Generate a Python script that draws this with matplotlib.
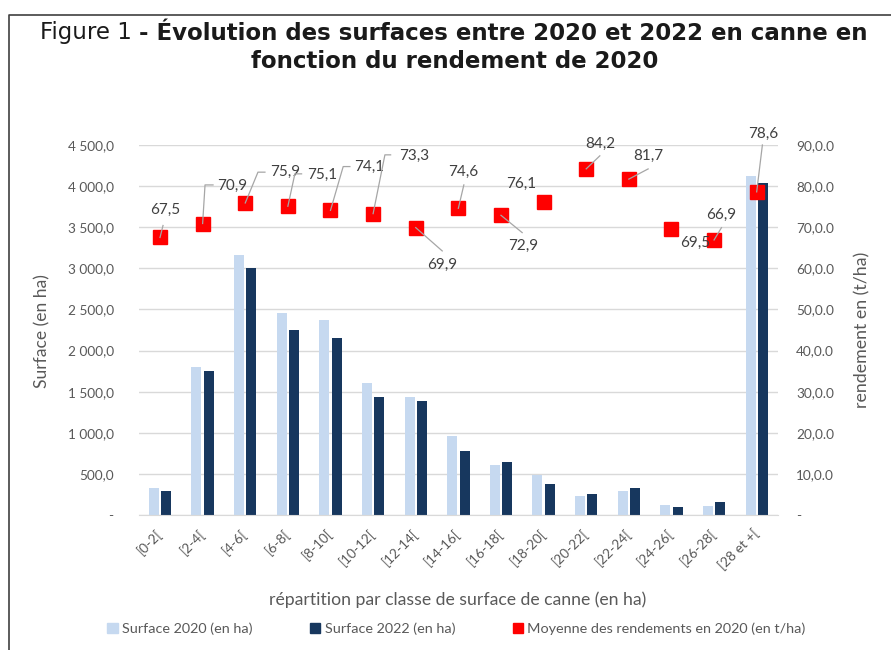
import numpy as np
import matplotlib.pyplot as plt
from matplotlib.patches import Patch
from matplotlib.lines import Line2D
from matplotlib.transforms import IdentityTransform
from matplotlib.ticker import FuncFormatter

# data
classes = ['[0-2[', '[2-4[', '[4-6[', '[6-8[', '[8-10[', '[10-12[', '[12-14[',
           '[14-16[', '[16-18[', '[18-20[', '[20-22[', '[22-24[', '[24-26[',
           '[26-28[', '[28 et +[']
surf_2020 = [325, 1797, 3163, 2461, 2368, 1602, 1439, 965, 608, 490, 231, 296, 125, 109, 4128]
surf_2022 = [292, 1752, 3001, 2250, 2149, 1439, 1387, 782, 645, 377, 259, 325, 101, 162, 4043]
rendement = [67.5, 70.9, 75.9, 75.1, 74.1, 73.3, 69.9, 74.6, 72.9, 76.1, 84.2, 81.7, 69.5, 66.9, 78.6]

# label offsets (pixels, screen-down) and leader polylines
lab_off = [(5, -28), (30, -38), (40, -31), (34, -31), (39, -43), (41, -58), (26, 37),
           (5, -36), (22, 31), (-22, -18), (14, -25), (19, -23), (24, 14), (7, -25), (6, -58)]
leaders = [[(0, 0), (3, -12)],
           [(0, 0), (2.4, -38.6), (10.4, -38.6)],
           [(0, 0), (12.7, -30.8), (19.7, -30.8)],
           [(0, 0), (7, -32.4), (13.7, -32.4)],
           [(0, 0), (12.7, -43.8), (19.4, -43.8)],
           [(0, 0), (11.8, -58.8), (17.5, -58.8)],
           [(0, 0), (26.5, 23.3)],
           [(0, 0), (5.5, -23.4)],
           [(0, 0), (21.2, 17.3)],
           None,
           [(0, 0), (13.6, -13)],
           [(0, 0), (19.3, -10.2)],
           None,
           [(0, 0), (7.4, -12.3)],
           [(0, 0), (5.7, -46.9)]]

c_light = '#c6d9f0'
c_dark = '#17375e'
c_red = '#ff0000'
c_txt = '#595959'
fnt = 'Lato'

W, H = 891, 650
fig = plt.figure(figsize=(W / 100, H / 100), dpi=100)
ax = fig.add_axes([138.7 / W, 1 - 515 / H, (778 - 138.7) / W, 370 / H])
ax2 = ax.twinx()

x = np.arange(len(classes))
bw = 0.235
ax.bar(x - 0.145, surf_2020, bw, color=c_light, zorder=2)
ax.bar(x + 0.145, surf_2022, bw, color=c_dark, zorder=2)
ax.set_xlim(-0.5, len(classes) - 0.5)
ax.set_ylim(0, 4500)
ax.set_yticks(np.arange(0, 4501, 500))

def fmt_left(v, p):
    if v == 0:
        return '-'
    return '{:,.1f}'.format(v).replace(',', ' ').replace('.', ',')

def fmt_right(v, p):
    if v == 0:
        return '-'
    return '{:.0f},0.0'.format(v)

ax.yaxis.set_major_formatter(FuncFormatter(fmt_left))
ax.grid(axis='y', color='#d9d9d9', lw=1, zorder=0)
ax.set_axisbelow(True)
for a in (ax, ax2):
    for s in ['top', 'left', 'right']:
        a.spines[s].set_visible(False)
    a.spines['bottom'].set_color('#d9d9d9')
    a.tick_params(length=0, colors=c_txt, labelsize=9.8)
ax2.spines['bottom'].set_visible(False)

ax.set_xticks(x)
ax.set_xticklabels(classes, rotation=45, ha='right', va='center', rotation_mode='anchor',
                   fontfamily=fnt, color=c_txt, fontsize=9.8)
ax.tick_params(axis='x', pad=12)
for t in ax.get_yticklabels():
    t.set_fontfamily(fnt)
ax.tick_params(axis='y', pad=18)

ax2.set_ylim(0, 90)
ax2.set_yticks(np.arange(0, 91, 10))
ax2.yaxis.set_major_formatter(FuncFormatter(fmt_right))
ax2.tick_params(axis='y', pad=13)
for t in ax2.get_yticklabels():
    t.set_fontfamily(fnt)

ax2.plot(x, rendement, 's', color=c_red, ms=9.4, zorder=3)

fig.canvas.draw()
for i, v in enumerate(rendement):
    px, py = ax2.transData.transform((x[i], v))
    dx, dy = lab_off[i]
    ax2.annotate('{:.1f}'.format(v).replace('.', ','), (x[i], v), xytext=(dx, -dy),
                 textcoords='offset pixels', ha='center', va='center',
                 fontsize=11, fontfamily=fnt, color='#404040', zorder=5)
    if leaders[i] is not None:
        xs = [px + a for a, b in leaders[i]]
        ys = [py - b for a, b in leaders[i]]
        fig.add_artist(Line2D(xs, ys, transform=IdentityTransform(), color='#a6a6a6', lw=0.9, zorder=6))

fig.text(42 / W, 1 - 331 / H, 'Surface (en ha)', rotation=90, ha='center', va='center',
         fontsize=12.6, fontfamily=fnt, color=c_txt)
fig.text(862 / W, 1 - 330 / H, 'rendement en (t/ha)', rotation=90, ha='center', va='center',
         fontsize=12.8, fontfamily=fnt, color=c_txt)
fig.text(458 / W, 1 - 600 / H, 'répartition par classe de surface de canne (en ha)', ha='center',
         va='center', fontsize=12.7, fontfamily=fnt, color=c_txt)

handles = [Patch(color=c_light), Patch(color=c_dark), Patch(color=c_red)]
names = ['Surface 2020 (en ha)', 'Surface 2022 (en ha)', 'Moyenne des rendements en 2020 (en t/ha)']
fig.legend(handles, names, loc='center', bbox_to_anchor=(456.5 / W, 1 - 629 / H), ncol=3,
           frameon=False, handlelength=0.7, handleheight=0.7, handletextpad=0.3,
           columnspacing=4.0, prop={'family': fnt, 'size': 10.4}, labelcolor=c_txt)

# title: normal + bold parts
r = fig.canvas.get_renderer()
t1 = fig.text(0, 0, 'Figure 1 ', fontsize=16.5, color='#1a1a1a')
t2 = fig.text(0, 0, '- Évolution des surfaces entre 2020 et 2022 en canne en', fontsize=16.5,
              fontweight='bold', color='#1a1a1a')
w1 = t1.get_window_extent(r).width
w2 = t2.get_window_extent(r).width
x0 = 454 - (w1 + w2) / 2
t1.set_position((x0 / W, 1 - 33 / H))
t2.set_position(((x0 + w1) / W, 1 - 33 / H))
t1.set_va('center')
t2.set_va('center')
fig.text(455 / W, 1 - 62 / H, 'fonction du rendement de 2020', fontsize=16.5, fontweight='bold',
         ha='center', va='center', color='#1a1a1a')

# frame lines
fig.add_artist(Line2D([9 / W, 9 / W, 1], [0, 1 - 15 / H, 1 - 15 / H], transform=fig.transFigure,
                      color='#404040', lw=1.2))

fig.savefig('out.png', dpi=100)
